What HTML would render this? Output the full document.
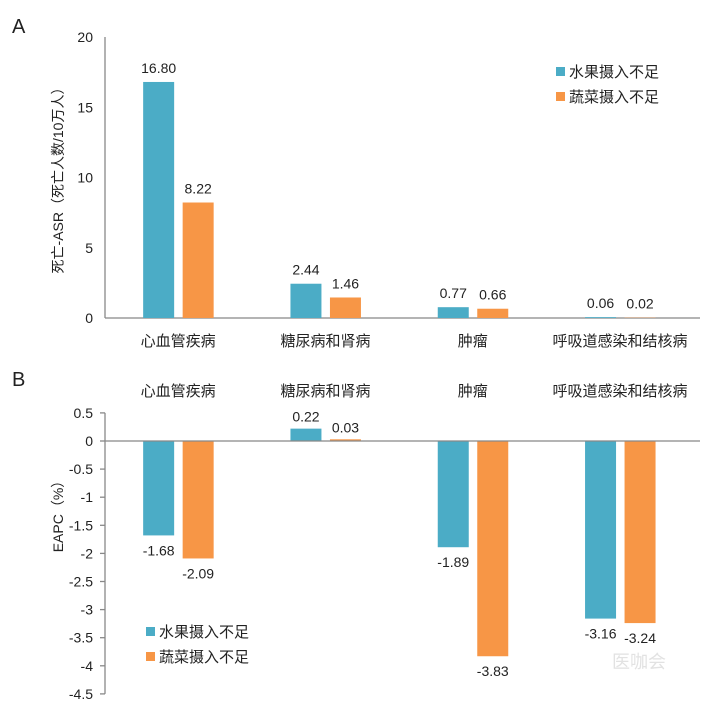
<!DOCTYPE html>
<html><head><meta charset="utf-8"><style>
body{margin:0;background:#fff;}
svg text{font-family:"Liberation Sans","Noto Sans CJK SC",sans-serif;fill:#222;}
</style></head><body>
<svg width="715" height="708" xmlns="http://www.w3.org/2000/svg">
<g id="root"></g>
</svg>
<script>
const categories=["心血管疾病","糖尿病和肾病","肿瘤","呼吸道感染和结核病"];
const seriesNames=["水果摄入不足","蔬菜摄入不足"];
const asrFruit=[16.80,2.44,0.77,0.06];
const asrVeg=[8.22,1.46,0.66,0.02];
const eapcFruit=[-1.68,0.22,-1.89,-3.16];
const eapcVeg=[-2.09,0.03,-3.83,-3.24];
const ticksA=[0,5,10,15,20];
const ticksB=[0.5,0,-0.5,-1,-1.5,-2,-2.5,-3,-3.5,-4,-4.5];
const colors=["#4BACC6","#F79646"];
const NS="http://www.w3.org/2000/svg";
const root=document.getElementById('root');
function mk(tag,attrs,txt,parent){const e=document.createElementNS(NS,tag);for(const k in attrs)e.setAttribute(k,attrs[k]);if(txt!==undefined)e.textContent=txt;(parent||root).appendChild(e);return e;}
const x0=105,catW=147.3;
function xCat(i){return 104.5+catW*(i+0.5);}
function yA(v){return 318-v*(281/20);}
function yB(v){return 441-v*56.2;}
function fmtT(v){return String(v);}
// Panel A
let t=mk('text',{x:12,y:33,'font-size':20},'A');


let ax=mk('line',{x1:x0,y1:yA(20),x2:x0,y2:yA(0),stroke:'#888','stroke-width':1.3});


let bx=mk('line',{x1:x0,y1:yA(0),x2:700,y2:yA(0),stroke:'#888','stroke-width':1.3});


ticksA.forEach(v=>{
  const e=mk('text',{x:93,y:yA(v)+5,'font-size':14,'text-anchor':'end'},fmtT(v));
  
  
});
t=mk('text',{x:0,y:0,'font-size':14,'text-anchor':'middle',transform:'translate(63,177) rotate(-90)'},'死亡-ASR（死亡人数/10万人）');


[asrFruit,asrVeg].forEach((arr,s)=>{
  arr.forEach((v,i)=>{
    const bxp=xCat(i)-35+s*39.5;
    const r=mk('rect',{x:bxp,y:yA(v),width:31,height:yA(0)-yA(v),fill:colors[s]});
    
    
    const l=mk('text',{x:bxp+15.5,y:yA(v)-9,'font-size':14,'text-anchor':'middle'},v.toFixed(2));
    
    
  });
});
categories.forEach((c,i)=>{
  const e=mk('text',{x:xCat(i),y:346,'font-size':15,'text-anchor':'middle'},c);
  
  
  const f=mk('text',{x:xCat(i),y:396,'font-size':15,'text-anchor':'middle'},c);
  
  
});
seriesNames.forEach((n,s)=>{
  const r=mk('rect',{x:556,y:67+s*25,width:9,height:9,fill:colors[s]});
  
  
  const e=mk('text',{x:569,y:77+s*25,'font-size':15},n);
  
  
});
// Panel B
t=mk('text',{x:12,y:386,'font-size':20},'B');


ax=mk('line',{x1:x0,y1:yB(0.5),x2:x0,y2:yB(-4.5),stroke:'#888','stroke-width':1.3});


ticksB.forEach(v=>{
  const k=mk('line',{x1:x0-5,y1:yB(v),x2:x0,y2:yB(v),stroke:'#888','stroke-width':1.3});
  
  
  const e=mk('text',{x:93,y:yB(v)+5,'font-size':14,'text-anchor':'end'},fmtT(v));
  
  
});
t=mk('text',{x:0,y:0,'font-size':14,'text-anchor':'middle',transform:'translate(63,513) rotate(-90)'},'EAPC（%）');


[eapcFruit,eapcVeg].forEach((arr,s)=>{
  arr.forEach((v,i)=>{
    const bxp=xCat(i)-35+s*39.5;
    const top=Math.min(yB(v),yB(0)),h=Math.abs(yB(v)-yB(0));
    const r=mk('rect',{x:bxp,y:top,width:31,height:h,fill:colors[s]});
    
    
    const ly=v>=0?yB(v)-7:yB(v)+20;
    const l=mk('text',{x:bxp+15.5,y:ly,'font-size':14,'text-anchor':'middle'},v.toFixed(2));
    
    
  });
});
bx=mk('line',{x1:x0,y1:yB(0),x2:700,y2:yB(0),stroke:'#888','stroke-width':1.3});


seriesNames.forEach((n,s)=>{
  const r=mk('rect',{x:146,y:627+s*25,width:9,height:9,fill:colors[s]});
  
  
  const e=mk('text',{x:159,y:637+s*25,'font-size':15},n);
  
  
});
t=mk('text',{x:612,y:668,'font-size':18,style:'fill:#e2e2e2'},'医咖会');


</script>
</body></html>
